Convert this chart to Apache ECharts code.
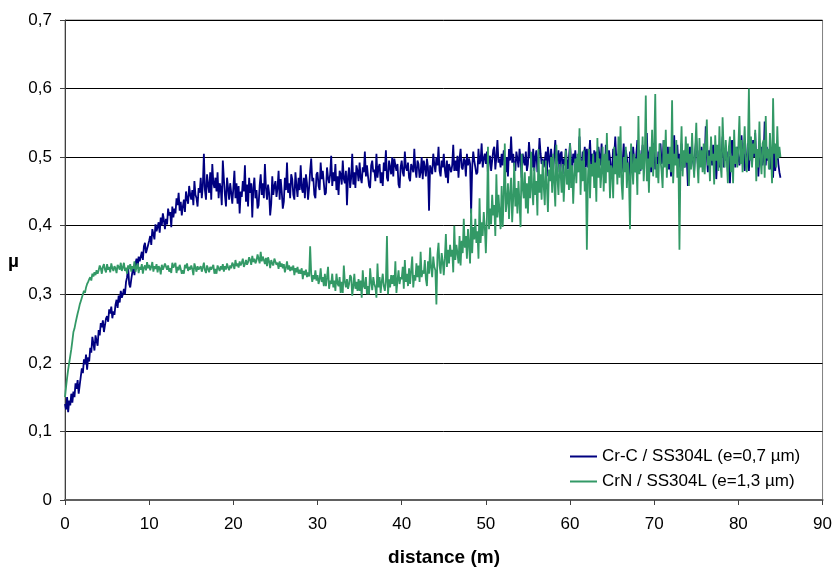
<!DOCTYPE html>
<html>
<head>
<meta charset="utf-8">
<script src="https://cdn.jsdelivr.net/npm/echarts@6/dist/echarts.min.js"></script>
<style>html,body{margin:0;padding:0;background:#fff}#c{width:835px;height:567px}</style>
</head>
<body>
<div id="c"></div>
<script>
// distance step between samples (m)
const STEP = 0.125;
const SERIES_NAMES = ['Cr-C / SS304L (e=0,7 µm)', 'CrN / SS304L (e=1,3 µm)'];
const X_TICKS = [0, 10, 20, 30, 40, 50, 60, 70, 80, 90];
const Y_TICKS = [0, 0.1, 0.2, 0.3, 0.4, 0.5, 0.6, 0.7];

// friction coefficient, Cr-C / SS304L: one row per metre (8 samples), 0 to 85 m
const crC = [
.140,.132,.150,.128,.145,.138,.155,.142,
.158,.150,.170,.162,.175,.155,.168,.180,
.192,.185,.205,.198,.212,.190,.208,.202,
.222,.215,.238,.228,.218,.240,.232,.225,
.248,.240,.258,.252,.262,.245,.255,.265,
.268,.260,.278,.272,.282,.265,.275,.270,
.285,.292,.280,.298,.288,.305,.295,.300,
.308,.300,.318,.325,.340,.315,.310,.322,
.332,.340,.328,.345,.352,.338,.355,.348,
.355,.362,.350,.370,.375,.360,.366,.372,
.378,.385,.372,.395,.388,.380,.402,.392,
.398,.405,.390,.412,.400,.418,.408,.395,
.410,.402,.425,.415,.420,.398,.428,.412,
.425,.418,.440,.430,.448,.422,.435,.415,
.428,.438,.420,.450,.440,.432,.458,.445,
.438,.452,.430,.465,.445,.440,.428,.455,
.448,.470,.440,.458,.505,.452,.438,.475,
.460,.448,.478,.438,.490,.462,.455,.470,
.450,.478,.440,.462,.455,.430,.495,.468,
.445,.428,.470,.455,.438,.462,.448,.432,
.455,.480,.440,.462,.432,.458,.418,.450,
.442,.465,.450,.488,.435,.460,.428,.470,
.448,.462,.412,.455,.470,.440,.452,.425,
.430,.458,.475,.445,.462,.440,.490,.455,
.438,.460,.448,.415,.432,.472,.445,.458,
.465,.442,.455,.480,.438,.468,.450,.425,
.435,.470,.452,.492,.448,.462,.440,.475,
.468,.445,.438,.478,.458,.442,.470,.452,
.488,.455,.448,.470,.440,.475,.462,.438,
.455,.480,.498,.465,.470,.445,.440,.475,
.478,.458,.452,.492,.468,.480,.462,.445,
.448,.485,.470,.462,.475,.502,.458,.478,
.465,.490,.452,.472,.445,.480,.475,.460,
.495,.468,.462,.480,.430,.472,.485,.455,
.470,.505,.460,.478,.455,.488,.480,.465,
.492,.470,.462,.485,.478,.508,.472,.488,
.472,.458,.455,.488,.495,.478,.482,.465,
.505,.470,.485,.490,.462,.478,.458,.492,
.480,.510,.470,.465,.495,.485,.475,.500,
.472,.498,.488,.480,.490,.460,.455,.485,
.495,.478,.472,.508,.485,.480,.492,.470,
.465,.490,.485,.478,.512,.482,.470,.495,
.490,.470,.478,.500,.468,.495,.485,.472,
.498,.485,.422,.488,.482,.475,.505,.490,
.478,.500,.488,.515,.480,.472,.495,.485,
.505,.482,.470,.495,.462,.490,.488,.478,
.488,.518,.480,.495,.480,.502,.470,.498,
.512,.485,.482,.498,.495,.472,.505,.488,
.498,.490,.418,.485,.508,.495,.485,.475,
.478,.512,.490,.495,.520,.485,.498,.505,
.490,.508,.475,.498,.502,.480,.495,.510,
.515,.482,.500,.525,.492,.498,.485,.505,
.488,.510,.498,.478,.500,.472,.512,.495,
.530,.492,.505,.488,.480,.508,.498,.485,
.512,.498,.470,.505,.495,.488,.508,.480,
.490,.522,.502,.495,.485,.512,.480,.500,
.510,.478,.495,.528,.505,.490,.498,.485,
.495,.508,.472,.515,.500,.485,.512,.492,
.482,.502,.525,.490,.498,.510,.478,.505,
.508,.475,.498,.488,.512,.495,.482,.500,
.520,.495,.480,.505,.492,.510,.488,.478,
.498,.530,.490,.470,.508,.495,.515,.485,
.512,.485,.500,.525,.490,.505,.478,.510,
.480,.508,.495,.515,.502,.488,.520,.492,
.502,.468,.518,.492,.485,.510,.498,.475,
.485,.512,.500,.530,.495,.505,.482,.515,
.508,.478,.492,.520,.488,.510,.500,.482,
.472,.508,.498,.488,.515,.495,.478,.505,
.525,.495,.510,.480,.500,.518,.488,.505,
.500,.535,.485,.505,.512,.478,.498,.520,
.515,.482,.500,.475,.508,.495,.520,.490,
.495,.525,.508,.488,.502,.515,.482,.500,
.472,.510,.498,.532,.490,.505,.518,.485,
.505,.480,.520,.492,.500,.485,.512,.498,
.458,.500,.515,.488,.505,.495,.480,.510,
.528,.498,.482,.510,.492,.515,.500,.485,
.492,.545,.502,.478,.510,.495,.520,.488,
.518,.490,.505,.468,.500,.512,.485,.505,
.500,.530,.485,.512,.495,.508,.478,.502,
.462,.508,.525,.498,.510,.485,.500,.515,
.515,.488,.502,.532,.495,.510,.480,.505,
.498,.520,.480,.505,.512,.490,.525,.500,
.535,.492,.510,.472,.505,.498,.515,.488,
.500,.552,.488,.515,.495,.510,.482,.505,
.505,.470,.520,.480,.498,.512,.490,.478,
.470
];

// friction coefficient, CrN / SS304L: one row per metre (8 samples), 0 to 85 m
const crN = [
.150,.165,.178,.190,.200,.210,.220,.232,
.245,.250,.258,.265,.272,.278,.285,.290,
.295,.300,.305,.302,.310,.315,.318,.322,
.325,.320,.330,.326,.332,.328,.335,.330,
.335,.342,.338,.330,.340,.344,.336,.332,
.344,.336,.340,.332,.345,.338,.334,.341,
.338,.331,.343,.340,.336,.346,.334,.339,
.346,.334,.339,.330,.342,.337,.344,.333,
.341,.337,.348,.333,.339,.345,.331,.340,
.336,.344,.330,.339,.342,.335,.347,.338,
.343,.335,.340,.347,.333,.341,.337,.344,
.332,.341,.338,.329,.343,.336,.340,.345,
.344,.336,.342,.333,.338,.331,.346,.339,
.339,.346,.331,.340,.335,.343,.337,.330,
.335,.330,.343,.338,.345,.334,.340,.336,
.342,.337,.328,.345,.339,.333,.341,.336,
.336,.341,.333,.339,.346,.335,.331,.342,
.344,.332,.340,.336,.338,.343,.330,.337,
.330,.342,.338,.334,.341,.336,.344,.333,
.341,.336,.345,.339,.335,.342,.338,.346,
.343,.337,.350,.341,.345,.339,.348,.342,
.346,.352,.340,.344,.350,.343,.347,.354,
.350,.343,.356,.347,.352,.345,.349,.358,
.352,.345,.362,.348,.355,.350,.344,.353,
.341,.354,.348,.338,.350,.345,.342,.352,
.350,.343,.346,.337,.348,.340,.345,.338,
.344,.332,.339,.348,.336,.342,.334,.340,
.335,.342,.328,.338,.332,.340,.330,.336,
.330,.338,.322,.334,.328,.336,.325,.332,
.326,.370,.330,.318,.328,.322,.335,.320,
.328,.315,.322,.338,.318,.325,.312,.330,
.312,.325,.340,.308,.320,.315,.330,.310,
.320,.305,.330,.316,.312,.325,.302,.318,
.302,.342,.318,.310,.322,.308,.315,.328,
.325,.298,.312,.330,.308,.318,.305,.322,
.305,.320,.295,.335,.312,.308,.325,.300,
.312,.300,.338,.318,.306,.325,.315,.310,
.295,.345,.310,.325,.302,.318,.330,.312,
.305,.318,.385,.300,.322,.310,.328,.315,
.328,.312,.348,.302,.320,.335,.315,.325,
.322,.340,.308,.350,.318,.330,.312,.338,
.315,.335,.355,.310,.328,.320,.345,.325,
.342,.318,.362,.325,.335,.330,.350,.322,
.312,.348,.330,.368,.338,.325,.355,.340,
.335,.285,.358,.375,.342,.330,.360,.348,
.328,.352,.388,.340,.365,.345,.372,.355,
.365,.332,.400,.350,.372,.360,.345,.385,
.342,.378,.360,.410,.368,.385,.352,.395,
.372,.345,.425,.360,.398,.380,.410,.375,
.392,.352,.440,.375,.405,.385,.420,.398,
.360,.410,.515,.395,.425,.402,.445,.415,
.430,.385,.475,.412,.445,.420,.395,.458,
.398,.445,.520,.420,.435,.462,.410,.448,
.470,.405,.440,.492,.428,.455,.418,.465,
.432,.398,.505,.455,.440,.478,.425,.462,
.418,.472,.440,.508,.452,.430,.485,.445,
.465,.415,.512,.448,.475,.438,.495,.458,
.430,.495,.458,.420,.482,.465,.500,.448,
.505,.462,.428,.518,.470,.445,.490,.478,
.448,.490,.435,.472,.510,.460,.482,.452,
.520,.455,.488,.432,.475,.498,.462,.505,
.478,.542,.445,.495,.465,.510,.450,.485,
.365,.468,.512,.440,.490,.472,.505,.455,
.492,.435,.528,.470,.498,.455,.480,.515,
.450,.505,.462,.535,.478,.495,.440,.488,
.482,.440,.515,.475,.502,.460,.530,.470,
.545,.462,.438,.500,.478,.515,.455,.492,
.470,.395,.520,.488,.460,.505,.478,.498,
.445,.560,.475,.505,.482,.530,.465,.495,
.590,.465,.498,.448,.515,.485,.540,.472,
.512,.592,.470,.490,.462,.520,.495,.480,
.455,.525,.485,.540,.470,.505,.490,.515,
.478,.583,.462,.505,.488,.525,.470,.498,
.365,.495,.545,.472,.510,.485,.530,.492,
.520,.458,.505,.482,.535,.495,.470,.512,
.550,.492,.462,.528,.485,.510,.478,.520,
.475,.515,.555,.488,.502,.465,.530,.495,
.505,.460,.532,.495,.518,.480,.545,.490,
.470,.558,.512,.485,.525,.498,.462,.515,
.530,.478,.502,.462,.540,.490,.515,.485,
.515,.560,.490,.525,.478,.510,.545,.495,
.478,.508,.600,.495,.530,.485,.520,.505,
.540,.465,.512,.485,.552,.498,.475,.520,
.525,.470,.560,.498,.512,.482,.535,.505,
.462,.586,.505,.520,.485,.545,.498,.515,
.500
];

const FONT = '"Liberation Sans", Arial, sans-serif';
const toPairs = arr => arr.map((v, i) => [i * STEP, v]);
const fmtY = v => v === 0 ? '0' : v.toFixed(1).replace('.', ',');

const chart = echarts.init(document.getElementById('c'), null, {renderer: 'canvas'});
chart.setOption({
  animation: false,
  backgroundColor: '#ffffff',
  grid: {left: 65, right: 12, top: 20, bottom: 67, show: true, borderColor: '#808080', borderWidth: 1, backgroundColor: 'transparent'},
  xAxis: {
    type: 'value', min: X_TICKS[0], max: X_TICKS[X_TICKS.length - 1], interval: 10,
    axisLine: {show: true, lineStyle: {color: '#606060', width: 2}},
    axisTick: {show: true, inside: false, length: 5, lineStyle: {color: '#404040'}},
    axisLabel: {color: '#000', fontFamily: FONT, fontSize: 17, margin: 16},
    splitLine: {show: false}
  },
  yAxis: {
    type: 'value', min: Y_TICKS[0], max: Y_TICKS[Y_TICKS.length - 1], interval: 0.1,
    axisLine: {show: true, lineStyle: {color: '#404040', width: 1}},
    axisTick: {show: true, inside: false, length: 5, lineStyle: {color: '#404040'}},
    axisLabel: {color: '#000', fontFamily: FONT, fontSize: 17, margin: 13, formatter: fmtY},
    splitLine: {show: true, lineStyle: {color: '#000000', width: 1}}
  },
  legend: {
    orient: 'vertical', left: 565, top: 443,
    itemWidth: 27, itemHeight: 2, itemGap: 8, icon: 'rect',
    textStyle: {color: '#000', fontFamily: FONT, fontSize: 17, lineHeight: 17},
    data: SERIES_NAMES
  },
  graphic: [
    {type: 'text', left: 8, top: 252, style: {text: 'µ', font: 'bold 19px ' + FONT, fill: '#000'}},
    {type: 'text', x: 444, y: 558, style: {text: 'distance (m)', font: 'bold 19px ' + FONT, fill: '#000', align: 'center', verticalAlign: 'middle'}}
  ],
  series: [
    {name: SERIES_NAMES[0], type: 'line', data: toPairs(crC), showSymbol: false, symbol: 'none', sampling: null,
     lineStyle: {color: '#000080', width: 1.8}, itemStyle: {color: '#000080'}, z: 2},
    {name: SERIES_NAMES[1], type: 'line', data: toPairs(crN), showSymbol: false, symbol: 'none', sampling: null,
     lineStyle: {color: '#339966', width: 1.8}, itemStyle: {color: '#339966'}, z: 3}
  ]
});
</script>
</body>
</html>
